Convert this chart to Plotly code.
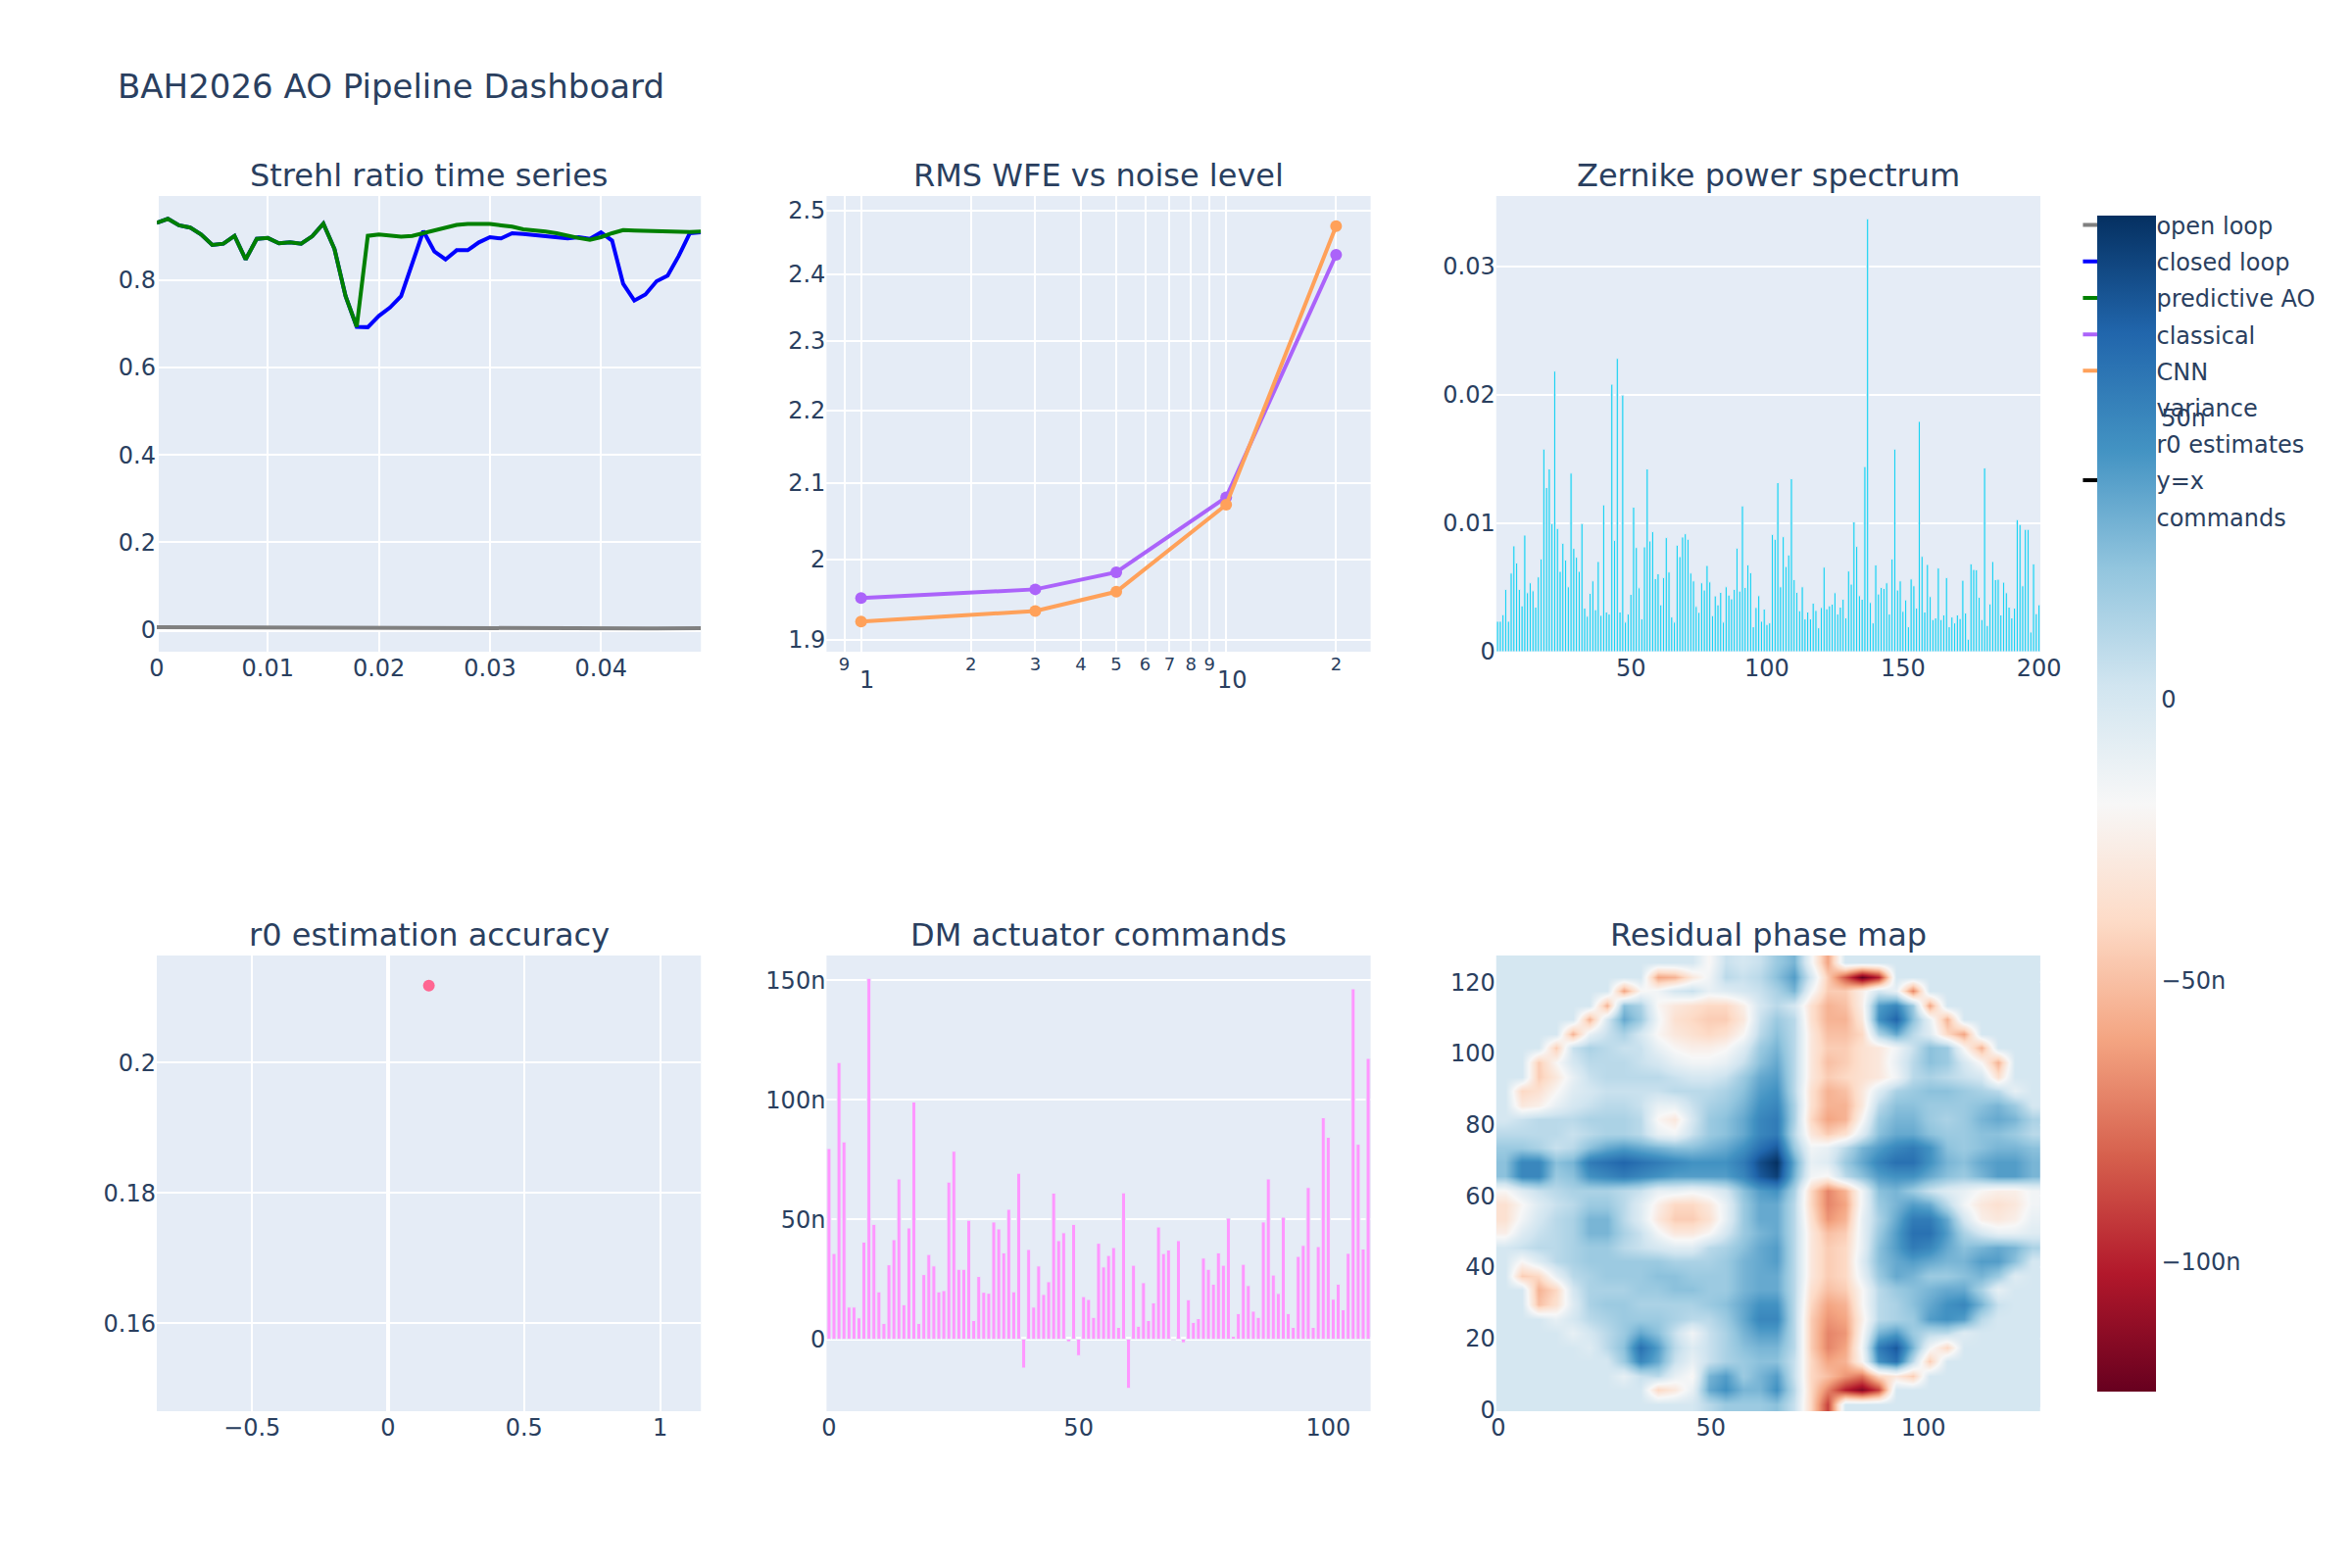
import plotly.graph_objects as go
from plotly.subplots import make_subplots

# ---------------- data ----------------
# Strehl ratio time series (50 samples, 1 ms apart)
time_s = [round(0.001 * k, 3) for k in range(50)]
strehl_open = [0.0060, 0.0059, 0.0058, 0.0056, 0.0055, 0.0054, 0.0053, 0.0052, 0.0050, 0.0049,
               0.0048, 0.0046, 0.0045, 0.0044, 0.0042, 0.0041, 0.0039, 0.0038, 0.0036, 0.0035,
               0.0033, 0.0032, 0.0030, 0.0029, 0.0027, 0.0026, 0.0024, 0.0023, 0.0022, 0.0021,
               0.0020, 0.0019, 0.0018, 0.0018, 0.0018, 0.0018, 0.0019, 0.0019, 0.0020, 0.0021,
               0.0022, 0.0023, 0.0025, 0.0026, 0.0028, 0.0029, 0.0031, 0.0033, 0.0035, 0.0037]
strehl_closed = [0.931, 0.940, 0.925, 0.920, 0.904, 0.880, 0.883, 0.901, 0.847, 0.894,
                 0.896, 0.884, 0.886, 0.883, 0.900, 0.929, 0.871, 0.763, 0.693, 0.692,
                 0.718, 0.737, 0.763, 0.838, 0.912, 0.865, 0.847, 0.868, 0.868, 0.886,
                 0.898, 0.895, 0.907, 0.905, 0.903, 0.901, 0.899, 0.895, 0.898, 0.894,
                 0.909, 0.890, 0.791, 0.753, 0.767, 0.797, 0.810, 0.855, 0.907, 0.909]
strehl_pred = [0.931, 0.940, 0.925, 0.920, 0.904, 0.880, 0.883, 0.901, 0.847, 0.894,
               0.896, 0.884, 0.886, 0.883, 0.900, 0.929, 0.871, 0.763, 0.693, 0.901,
               0.904, 0.901, 0.899, 0.901, 0.907, 0.914, 0.920, 0.926, 0.928, 0.928,
               0.928, 0.925, 0.922, 0.916, 0.914, 0.911, 0.907, 0.901, 0.896, 0.892,
               0.898, 0.907, 0.914, 0.913, 0.912, 0.911, 0.910, 0.909, 0.910, 0.911]

# RMS WFE vs noise level
noise_level = [1, 3, 5, 10, 20]
wfe_classical = [1.951, 1.962, 1.9835, 2.081, 2.430]
wfe_cnn = [1.922, 1.935, 1.959, 2.071, 2.475]

# Zernike power spectrum (modes 1..200)
zernike_var = [
    0.00237, 0.00237, 0.00288, 0.00485, 0.00237, 0.00612, 0.00824, 0.00691, 0.00485, 0.00357,
    0.00908, 0.00459, 0.00536, 0.00474, 0.00347, 0.00582, 0.00722, 0.01577, 0.01278, 0.01423,
    0.00997, 0.02184, 0.00959, 0.00625, 0.00844, 0.00714, 0.00505, 0.01390, 0.00804, 0.00735,
    0.00625, 0.00997, 0.00339, 0.00276, 0.00454, 0.00551, 0.00327, 0.00702, 0.00283, 0.01143,
    0.00309, 0.00293, 0.02082, 0.00867, 0.02283, 0.00309, 0.01997, 0.00230, 0.00293, 0.00446,
    0.01125, 0.00811, 0.00497, 0.00255, 0.00816, 0.01423, 0.00862, 0.00934, 0.00569, 0.00607,
    0.00365, 0.00577, 0.00888, 0.00620, 0.00270, 0.00230, 0.00829, 0.00740, 0.00893, 0.00918,
    0.00875, 0.00612, 0.00551, 0.00352, 0.00306, 0.00536, 0.00480, 0.00671, 0.00543, 0.00281,
    0.00434, 0.00365, 0.00462, 0.00230, 0.00505, 0.00441, 0.00411, 0.00485, 0.00806, 0.00472,
    0.01135, 0.00500, 0.00676, 0.00615, 0.00194, 0.00344, 0.00436, 0.00237, 0.00332, 0.00212,
    0.00224, 0.00913, 0.00875, 0.01316, 0.00505, 0.00895, 0.00663, 0.00753, 0.01347, 0.00561,
    0.00462, 0.00319, 0.00505, 0.00255, 0.00309, 0.00255, 0.00378, 0.00321, 0.00186, 0.00344,
    0.00658, 0.00334, 0.00357, 0.00370, 0.00459, 0.00293, 0.00347, 0.00408, 0.00263, 0.00628,
    0.00526, 0.01010, 0.00819, 0.00436, 0.00408, 0.01441, 0.03370, 0.00383, 0.00224, 0.00676,
    0.00449, 0.00500, 0.00492, 0.00536, 0.00293, 0.00722, 0.01577, 0.00480, 0.00551, 0.00314,
    0.00403, 0.00194, 0.00566, 0.00513, 0.00339, 0.01793, 0.00742, 0.00309, 0.00679, 0.00429,
    0.00250, 0.00263, 0.00651, 0.00250, 0.00286, 0.00577, 0.00194, 0.00270, 0.00224, 0.00286,
    0.00258, 0.00556, 0.00301, 0.00097, 0.00684, 0.00640, 0.00638, 0.00423, 0.00250, 0.01431,
    0.00204, 0.00372, 0.00702, 0.00561, 0.00564, 0.00286, 0.00541, 0.00459, 0.00347, 0.00263,
    0.00339, 0.01028, 0.00990, 0.00513, 0.00952, 0.00952, 0.00153, 0.00684, 0.00296, 0.00365,
]
zernike_mode = list(range(1, len(zernike_var) + 1))

# r0 estimation accuracy
r0_true = [0.15]
r0_est = [0.2118]
identity_line = [0.15, 0.15]

# DM actuator commands (nm)
dm_cmd_nm = [
    79.7, 35.8, 115.7, 82.5, 13.4, 13.4, 8.9, 40.6, 150.9, 48.0,
    19.8, 6.6, 31.1, 41.6, 67.0, 14.4, 46.5, 99.2, 6.6, 27.0,
    35.4, 30.6, 19.8, 20.3, 65.7, 78.6, 29.2, 29.2, 49.7, 7.8,
    26.2, 19.6, 19.2, 49.0, 46.1, 36.1, 54.3, 19.8, 69.4, -12.1,
    37.5, 13.4, 30.6, 18.7, 24.0, 61.1, 41.2, 44.5, -1.1, 48.0,
    -6.9, 17.8, 16.6, 9.1, 40.1, 30.2, 35.0, 38.3, 4.9, 61.2,
    -20.6, 30.9, 5.4, 23.6, 7.8, 15.2, 46.9, 35.8, 37.3, -0.5,
    41.2, -1.5, 16.5, 7.0, 8.6, 33.9, 29.2, 23.0, 36.1, 30.9,
    50.6, 1.2, 10.7, 31.3, 22.4, 11.7, 9.1, 49.0, 67.0, 26.8,
    19.1, 51.0, 10.7, 4.9, 34.6, 39.2, 63.4, 4.9, 38.7, 92.6,
    84.4, 16.7, 23.0, 12.3, 35.9, 146.5, 81.5, 37.7, 117.4,
]
dm_index = list(range(len(dm_cmd_nm)))

# Residual phase map (nm), coarse 32x32 reading of the 128x128 map, rows listed top -> bottom
phase_rows_top_down_nm = [
    [0] * 12 + [-20, 5, 0, 5, 20, 30, -15, -60] + [0] * 12,
    [0] * 9 + [-60, -55, -30, -15, 10, 5, 10, 25, 40, 0, -45, -85, -123, -100] + [0] * 9,
    [0] * 7 + [-60, -20, -15, 0, 5, -10, -5, 0, 5, 15, 30, -15, -45, -45, -25, 0, -10, -70] + [0] * 7,
    [0] * 6 + [-55, 25, 15, -20, -30, -35, -40, -40, -25, 0, 10, 0, -35, -55, -50, -25, 40, 50, 20, -60] + [0] * 6,
    [0] * 5 + [-55, 0, 35, 20, -15, -35, -40, -45, -45, -30, 5, 20, 10, -35, -55, -55, -30, 45, 65, 25, -10, -55] + [0] * 5,
    [0] * 4 + [-55, -10, 5, 15, 0, -20, -30, -35, -40, -35, -20, 10, 25, 10, -30, -50, -50, -40, 15, 35, 10, -5, -40, -60] + [0] * 4,
    [0] * 3 + [-45, 5, 15, 10, 5, 5, -10, -20, -25, -25, -20, -5, 20, 30, 10, -30, -45, -45, -35, -30, -15, 5, 25, 20, -20, -55] + [0] * 3,
    [0] * 2 + [-45, -20, 0, 10, 10, 10, 5, 0, -10, -15, -15, -10, 5, 25, 35, 10, -30, -50, -45, -35, -30, -10, 10, 25, 20, 0, -20, -55] + [0] * 2,
    [0] * 2 + [-45, -30, -10, 5, 10, 10, 10, 10, 5, 0, 0, 5, 20, 35, 40, 10, -30, -45, -40, -35, -30, -15, 10, 15, 10, 5, 0, -35] + [0] * 2,
    [0] + [-40, -35, -20, -5, 0, 5, 5, 5, 5, 10, 10, 10, 15, 25, 40, 45, 10, -35, -55, -50, -30, -5, 15, 20, 25, 25, 20, 15, 10, -10] + [0],
    [0] + [-30, -25, -10, 0, 5, 10, 10, 5, -10, -10, 5, 15, 20, 30, 45, 50, 15, -35, -55, -55, -30, 10, 25, 25, 20, 20, 20, 25, 30, 20] + [0],
    [0, 5, 10, 10, 10, 15, 15, 15, 10, -20, -30, 0, 20, 25, 35, 50, 55, 15, -40, -60, -55, -20, 20, 30, 30, 20, 15, 20, 30, 35, 30, 15],
    [10, 10, 10, 10, 5, 10, 15, 15, 10, -10, -15, 5, 20, 25, 35, 50, 55, 10, -30, -45, -35, -5, 25, 35, 35, 25, 20, 20, 25, 25, 20, 10],
    [20, 20, 15, 5, 10, 25, 35, 40, 35, 30, 25, 25, 30, 35, 45, 60, 70, 20, -15, -10, 10, 30, 40, 50, 55, 45, 25, 20, 25, 30, 30, 25],
    [25, 50, 50, 25, 30, 55, 60, 65, 60, 55, 50, 45, 45, 45, 55, 75, 86, 35, -10, -5, 20, 35, 50, 60, 60, 45, 30, 25, 35, 40, 40, 30],
    [25, 50, 50, 20, 25, 45, 50, 55, 50, 45, 40, 40, 40, 40, 50, 70, 80, 30, -15, -20, 10, 25, 40, 45, 45, 35, 25, 20, 30, 40, 40, 30],
    [-20, -5, 5, 10, 15, 15, 15, 10, 5, -10, -10, -15, -10, 0, 25, 40, 45, 15, -40, -70, -55, -15, 25, 30, 20, 5, -5, -10, -20, -25, -25, -15],
    [-35, -20, -5, 5, 10, 20, 20, 10, -5, -25, -40, -40, -30, -10, 20, 35, 35, 10, -40, -70, -60, -15, 20, 30, 40, 35, 10, -15, -30, -35, -30, -15],
    [-35, -15, 0, 10, 15, 30, 30, 10, -5, -30, -45, -45, -35, -10, 20, 35, 35, 10, -35, -65, -55, -10, 15, 35, 55, 55, 35, 0, -25, -30, -25, -10],
    [-25, -5, 5, 10, 15, 30, 30, 15, 5, -15, -30, -30, -20, 0, 20, 30, 35, 10, -30, -50, -45, -10, 20, 40, 60, 60, 40, 15, 0, -10, -10, -5],
    [0, 5, 10, 10, 15, 20, 20, 10, 5, 0, -5, -5, 10, 15, 25, 35, 40, 10, -30, -45, -40, -10, 25, 40, 55, 50, 35, 25, 30, 35, 30, 15],
    [0] + [-20, -5, 10, 15, 20, 20, 20, 20, 20, 15, 15, 15, 20, 30, 35, 40, 10, -30, -45, -40, -5, 25, 35, 40, 35, 30, 30, 40, 40, 25] + [0],
    [0] + [-45, -40, -10, 10, 15, 20, 20, 20, 25, 25, 20, 20, 20, 30, 35, 35, 10, -30, -45, -40, -10, 20, 35, 30, 20, 20, 25, 30, 20, -5] + [0],
    [0] * 2 + [-55, -40, 0, 15, 15, 15, 20, 20, 25, 25, 20, 20, 30, 35, 35, 10, -35, -50, -45, -20, 10, 20, 25, 30, 35, 35, 15, -10] + [0] * 2,
    [0] * 2 + [-50, -35, -5, 15, 20, 20, 15, 15, 15, 15, 20, 25, 35, 45, 45, 10, -40, -60, -55, -20, 10, 15, 25, 35, 45, 50, 30, 5] + [0] * 2,
    [0] * 3 + [-10, 0, 10, 15, 20, 20, 20, 15, 10, 10, 20, 35, 50, 50, 10, -45, -65, -60, -25, 10, 15, 20, 40, 45, 40, 10] + [0] * 3,
    [0] * 4 + [-10, 0, 10, 20, 35, 25, 5, -15, 5, 15, 30, 40, 40, 10, -45, -70, -65, -20, 30, 40, 20, 10, 10, -5] + [0] * 4,
    [0] * 5 + [-5, 10, 25, 60, 40, 10, -5, 5, 15, 25, 30, 30, 10, -45, -70, -60, -15, 55, 70, 30, -15, -40] + [0] * 5,
    [0] * 6 + [0, 20, 50, 35, 5, -10, 5, 15, 20, 25, 25, 5, -40, -60, -55, -20, 45, 60, 10, -45] + [0] * 6,
    [0] * 7 + [-10, 5, 10, -10, -20, 30, 40, 20, 30, 40, 5, -40, -50, -65, -75, -40, -30, -45] + [0] * 7,
    [0] * 9 + [-40, -30, -10, 35, 45, 30, 30, 45, 10, -40, -70, -100, -115, -90] + [0] * 9,
    [0] * 12 + [10, 20, 20, 20, 25, 5, -40, -90] + [0] * 12,
]
phase_cell_centers = [4 * k + 1.5 for k in range(32)]

# ---------------- figure ----------------
S = 2  # reference is drawn at twice the default plotly scale

phase_z = [[v * 1e-9 for v in row] for row in reversed(phase_rows_top_down_nm)]
dm_cmd_m = [v * 1e-9 for v in dm_cmd_nm]

fig = make_subplots(
    rows=2, cols=3,
    subplot_titles=["Strehl ratio time series", "RMS WFE vs noise level", "Zernike power spectrum",
                    "r0 estimation accuracy", "DM actuator commands", "Residual phase map"],
    vertical_spacing=0.25,
)

fig.add_trace(go.Scatter(x=time_s, y=strehl_open, mode="lines", name="open loop", legendgroup="g1",
                         line=dict(color="gray", width=2 * S)), row=1, col=1)
fig.add_trace(go.Scatter(x=time_s, y=strehl_closed, mode="lines", name="closed loop", legendgroup="g2",
                         line=dict(color="blue", width=2 * S)), row=1, col=1)
fig.add_trace(go.Scatter(x=time_s, y=strehl_pred, mode="lines", name="predictive AO", legendgroup="g3",
                         line=dict(color="green", width=2 * S)), row=1, col=1)

fig.add_trace(go.Scatter(x=noise_level, y=wfe_classical, mode="lines+markers", name="classical",
                         legendgroup="g4", line=dict(width=2 * S), marker=dict(size=6 * S)), row=1, col=2)
fig.add_trace(go.Scatter(x=noise_level, y=wfe_cnn, mode="lines+markers", name="CNN",
                         legendgroup="g5", line=dict(width=2 * S), marker=dict(size=6 * S)), row=1, col=2)

fig.add_trace(go.Bar(x=zernike_mode, y=zernike_var, name="variance", legendgroup="g6",
                     marker=dict(line=dict(width=0.5 * S))), row=1, col=3)

fig.add_trace(go.Scatter(x=r0_true, y=r0_est, mode="markers", name="r0 estimates", legendgroup="g7",
                         marker=dict(size=6 * S)), row=2, col=1)
fig.add_trace(go.Scatter(x=identity_line, y=identity_line, mode="lines", name="y=x", legendgroup="g8",
                         line=dict(color="black", width=2 * S)), row=2, col=1)

fig.add_trace(go.Bar(x=dm_index, y=dm_cmd_m, name="commands", legendgroup="g9",
                     marker=dict(line=dict(width=0.5 * S))), row=2, col=2)

fig.add_trace(go.Heatmap(x=phase_cell_centers, y=phase_cell_centers, z=phase_z,
                         colorscale="RdBu", zsmooth="best", showscale=True,
                         colorbar=dict(thickness=30 * S, xpad=10 * S, ypad=10 * S,
                                       outlinewidth=0, dtick=50e-9)), row=2, col=3)

# axes (tick spacing as in the reference)
fig.update_xaxes(gridwidth=1 * S, zerolinewidth=2 * S)
fig.update_yaxes(gridwidth=1 * S, zerolinewidth=2 * S)

fig.update_xaxes(dtick=0.01, row=1, col=1)
fig.update_yaxes(dtick=0.2, row=1, col=1)
fig.update_xaxes(type="log", row=1, col=2)
fig.update_yaxes(type="log", dtick="L0.1", row=1, col=2)
fig.update_xaxes(dtick=50, showgrid=False, zeroline=False, row=1, col=3)
fig.update_yaxes(dtick=0.01, row=1, col=3)
fig.update_xaxes(dtick=0.5, row=2, col=1)
fig.update_yaxes(dtick=0.02, row=2, col=1)
fig.update_xaxes(dtick=50, showgrid=False, zeroline=False, row=2, col=2)
fig.update_yaxes(dtick=50e-9, row=2, col=2)
fig.update_xaxes(dtick=50, row=2, col=3)
fig.update_yaxes(dtick=20, row=2, col=3)

fig.update_annotations(font=dict(size=16 * S, family="DejaVu Sans"))

fig.update_layout(
    width=2400, height=1600,
    title=dict(text="BAH2026 AO Pipeline Dashboard"),
    font=dict(size=12 * S, family="DejaVu Sans"),
    margin=dict(l=80 * S, r=159 * S, t=100 * S, b=80 * S),
    legend=dict(font=dict(size=12 * S), itemwidth=35 * S, tracegroupgap=3, y=0.994),
)

fig.write_html("out.html")
